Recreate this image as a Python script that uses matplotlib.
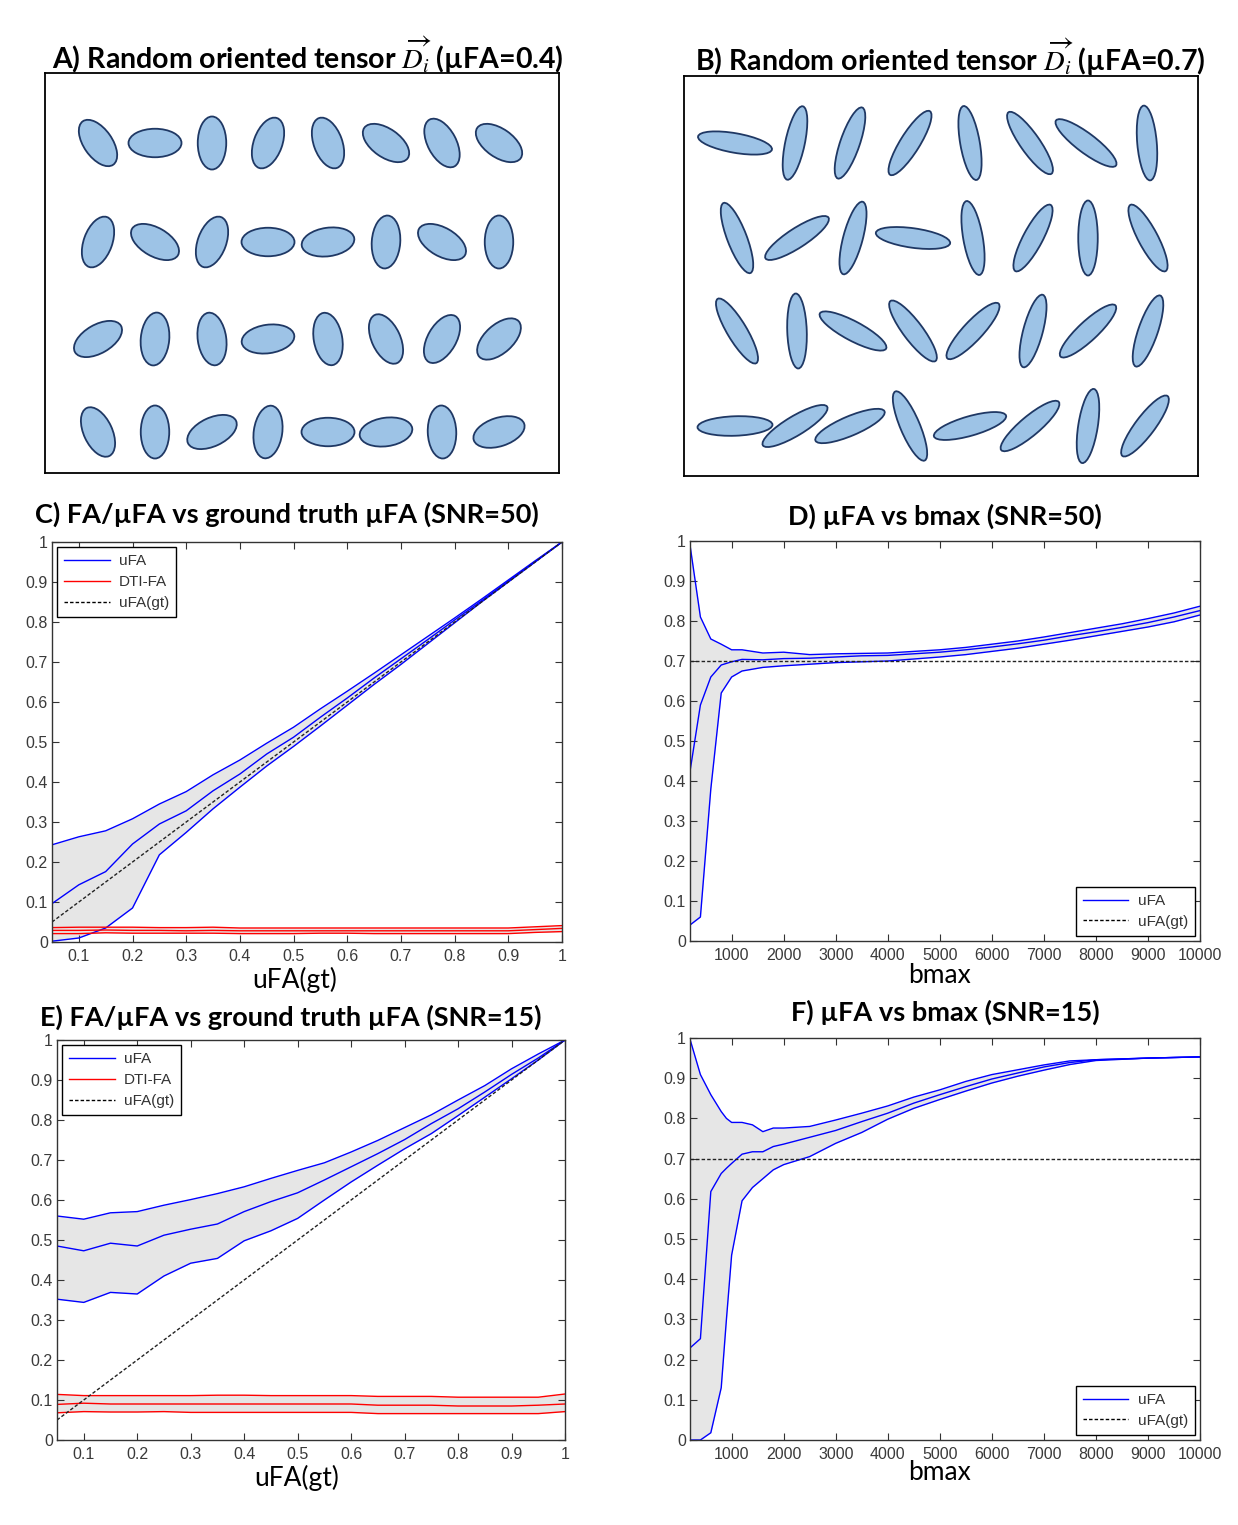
import numpy as np
import matplotlib
matplotlib.use('Agg')
import matplotlib.pyplot as plt
from matplotlib.patches import Ellipse
from matplotlib.lines import Line2D

plt.rcParams['font.family'] = ['Lato', 'DejaVu Sans']
plt.rcParams['mathtext.fontset'] = 'stix'

W, H = 1238, 1525

# ---------------- Data ----------------
# Panel A (uFA=0.4): ellipse grid, box units (514 x 400, y up)
a_rows_y = [330, 231, 134, 41]
a_cols_x = [[53, 110, 167, 223, 283, 341, 397, 454]] * 4
a_angles = [[125, 0, 90, 70, 110, 145, 118, 145],
            [70, 150, 70, 0, 8, 86, 150, 90],
            [30, 85, 98, 8, 100, 115, 60, 42],
            [115, 90, 25, 82, 0, 8, 92, 18]]

# Panel B (uFA=0.7)
b_rows_y = [333, 238, 145, 50]
b_cols_x = [[51, 111, 166, 226, 286, 346, 402, 463],
            [53, 113, 169, 229, 289, 349, 404, 464],
            [53, 113, 169, 229, 289, 349, 404, 464],
            [51, 111, 166, 226, 286, 346, 404, 461]]
b_angles = [[170, 78, 71, 58, 100, 125, 143, 95],
            [111, 33, 75, 172, 100, 62, 90, 118],
            [121, 92, 152, 127, 47, 75, 43, 71],
            [2, 31, 23, 113, 16, 40, 81, 53]]

# Panels C/E: x = ground truth uFA
ufa_gt = [0.05, 0.1, 0.15, 0.2, 0.25, 0.3, 0.35, 0.4, 0.45, 0.5,
          0.55, 0.6, 0.65, 0.7, 0.75, 0.8, 0.85, 0.9, 0.95, 1.0]

c_ufa_hi = [0.243, 0.263, 0.278, 0.308, 0.345, 0.376, 0.418, 0.455, 0.497, 0.537,
            0.583, 0.627, 0.672, 0.718, 0.764, 0.81, 0.857, 0.905, 0.953, 1.0]
c_ufa_mid = [0.096, 0.143, 0.176, 0.245, 0.295, 0.328, 0.378, 0.42, 0.47, 0.512,
             0.562, 0.61, 0.66, 0.708, 0.756, 0.805, 0.853, 0.902, 0.951, 1.0]
c_ufa_lo = [0.002, 0.01, 0.035, 0.085, 0.218, 0.274, 0.333, 0.387, 0.44, 0.489,
            0.54, 0.592, 0.644, 0.694, 0.746, 0.798, 0.85, 0.9, 0.95, 1.0]
c_fa_hi = [0.036, 0.037, 0.037, 0.037, 0.036, 0.036, 0.037, 0.035, 0.035, 0.035,
           0.035, 0.035, 0.035, 0.035, 0.035, 0.035, 0.035, 0.035, 0.038, 0.041]
c_fa_mid = [0.029, 0.029, 0.03, 0.029, 0.029, 0.028, 0.029, 0.028, 0.028, 0.028,
            0.028, 0.028, 0.028, 0.028, 0.028, 0.028, 0.028, 0.028, 0.031, 0.034]
c_fa_lo = [0.021, 0.021, 0.023, 0.022, 0.022, 0.022, 0.022, 0.021, 0.021, 0.021,
           0.022, 0.022, 0.021, 0.021, 0.021, 0.021, 0.021, 0.021, 0.024, 0.026]

e_ufa_hi = [0.56, 0.552, 0.568, 0.571, 0.587, 0.601, 0.616, 0.633, 0.654, 0.674,
            0.693, 0.72, 0.749, 0.781, 0.813, 0.85, 0.886, 0.928, 0.965, 1.0]
e_ufa_mid = [0.485, 0.473, 0.492, 0.485, 0.512, 0.527, 0.54, 0.571, 0.596, 0.618,
             0.65, 0.683, 0.716, 0.751, 0.791, 0.828, 0.87, 0.914, 0.955, 1.0]
e_ufa_lo = [0.352, 0.344, 0.369, 0.365, 0.41, 0.442, 0.454, 0.498, 0.523, 0.554,
            0.6, 0.645, 0.687, 0.728, 0.766, 0.811, 0.857, 0.903, 0.95, 1.0]
e_fa_hi = [0.114, 0.111, 0.111, 0.111, 0.111, 0.111, 0.112, 0.112, 0.111, 0.111,
           0.111, 0.111, 0.109, 0.109, 0.109, 0.107, 0.107, 0.107, 0.107, 0.115]
e_fa_mid = [0.089, 0.092, 0.09, 0.09, 0.09, 0.09, 0.09, 0.09, 0.09, 0.09,
            0.09, 0.09, 0.087, 0.087, 0.087, 0.085, 0.085, 0.085, 0.087, 0.09]
e_fa_lo = [0.068, 0.071, 0.07, 0.07, 0.071, 0.069, 0.069, 0.069, 0.069, 0.069,
           0.069, 0.069, 0.066, 0.066, 0.066, 0.066, 0.066, 0.066, 0.066, 0.071]

# Panel D: uFA vs bmax, SNR=50
d_bmax = [200, 400, 600, 800, 1000, 1200, 1600, 2000, 2500, 3000, 3500, 4000,
          4500, 5000, 5500, 6000, 6500, 7000, 7500, 8000, 8500, 9000, 9500, 10000]
d_hi = [0.99, 0.81, 0.755, 0.742, 0.728, 0.728, 0.72, 0.722, 0.716, 0.718, 0.719, 0.72,
        0.724, 0.728, 0.734, 0.742, 0.75, 0.76, 0.771, 0.782, 0.793, 0.806, 0.82, 0.837]
d_mid = [0.424, 0.59, 0.66, 0.69, 0.698, 0.704, 0.703, 0.706, 0.707, 0.71, 0.713, 0.714,
         0.718, 0.722, 0.728, 0.735, 0.743, 0.752, 0.763, 0.773, 0.784, 0.796, 0.81, 0.826]
d_lo = [0.04, 0.06, 0.38, 0.62, 0.66, 0.675, 0.684, 0.688, 0.692, 0.696, 0.698, 0.7,
        0.705, 0.71, 0.716, 0.724, 0.732, 0.742, 0.752, 0.763, 0.774, 0.785, 0.798, 0.815]

# Panel F: uFA vs bmax, SNR=15
f_bmax = [200, 400, 600, 800, 900, 1000, 1200, 1400, 1600, 1800, 2000, 2500, 3000,
          3500, 4000, 4500, 5000, 5500, 6000, 6500, 7000, 7500, 8000, 9000, 10000]
f_hi = [0.997, 0.909, 0.859, 0.817, 0.8, 0.79, 0.79, 0.784, 0.767, 0.776, 0.776, 0.78, 0.796,
        0.813, 0.831, 0.853, 0.871, 0.892, 0.909, 0.921, 0.933, 0.943, 0.946, 0.95, 0.953]
f_mid = [0.229, 0.252, 0.618, 0.663, 0.676, 0.688, 0.711, 0.717, 0.717, 0.73, 0.736, 0.753, 0.77,
         0.792, 0.813, 0.838, 0.859, 0.879, 0.898, 0.913, 0.928, 0.939, 0.946, 0.95, 0.953]
f_lo = [0.0, 0.0, 0.018, 0.13, 0.3, 0.46, 0.595, 0.628, 0.65, 0.672, 0.685, 0.705, 0.738,
        0.765, 0.798, 0.825, 0.847, 0.868, 0.888, 0.905, 0.92, 0.934, 0.944, 0.95, 0.953]

ufa_true_bmax = 0.7

y_ticks = [0, 0.1, 0.2, 0.3, 0.4, 0.5, 0.6, 0.7, 0.8, 0.9, 1]
gt_ticks = [0.1, 0.2, 0.3, 0.4, 0.5, 0.6, 0.7, 0.8, 0.9, 1]
b_ticks = [1000, 2000, 3000, 4000, 5000, 6000, 7000, 8000, 9000, 10000]

FILL = '#e6e6e6'
BLUE = '#0000ff'
RED = '#ff0000'
DASH = (0, (2.5, 1.5))

fig = plt.figure(figsize=(W / 100, H / 100), dpi=100)


def px_axes(x0, y0, x1, y1):
    # axes from pixel box (top-left origin)
    return fig.add_axes([x0 / W, 1 - y1 / H, (x1 - x0) / W, (y1 - y0) / H])


def title(x, y, s, size=19.5):
    fig.text(x / W, 1 - y / H, s, ha='center', va='center',
             fontsize=size, fontweight='bold')


def label(x, y, s):
    fig.text(x / W, 1 - y / H, s, ha='center', va='center', fontsize=19)


def draw_tensors(ax, xs, ys, angles, w, h):
    for j, y in enumerate(ys):
        for x, ang in zip(xs[j], angles[j]):
            ax.add_patch(Ellipse((x, y), w, h, angle=ang, fc='#9dc3e6',
                                 ec='#1f3864', lw=1.3))
    ax.set_xlim(0, 514)
    ax.set_ylim(0, 400)
    ax.set_xticks([])
    ax.set_yticks([])
    for s in ax.spines.values():
        s.set_linewidth(1.3)
        s.set_color('black')


def matlab_style(ax, xt, xl):
    ax.set_yticks(y_ticks)
    ax.set_yticklabels(['%g' % v for v in y_ticks])
    ax.set_xticks(xt)
    ax.set_xticklabels(xl)
    ax.set_ylim(0, 1)
    ax.tick_params(direction='in', top=True, right=True, length=5, width=0.8,
                   color='#333333', labelcolor='#3a3a3a', labelsize=11.5)
    ax.tick_params(axis='y', pad=3)
    ax.tick_params(axis='x', pad=5)
    for lab in ax.get_xticklabels() + ax.get_yticklabels():
        lab.set_family(['Liberation Sans', 'DejaVu Sans'])
    for s in ax.spines.values():
        s.set_color('#333333')
        s.set_linewidth(1.0)


def band(ax, x, lo, mid, hi, color):
    ax.fill_between(x, lo, hi, color=FILL, lw=0)
    for v in (hi, mid, lo):
        ax.plot(x, v, color=color, lw=1.0)


def legend(ax, with_fa, loc):
    handles = [Line2D([], [], color=BLUE, lw=1, label='uFA')]
    if with_fa:
        handles.append(Line2D([], [], color=RED, lw=1, label='DTI-FA'))
    handles.append(Line2D([], [], color='black', lw=1, ls=DASH, label='uFA(gt)'))
    leg = ax.legend(handles=handles, loc=loc, fancybox=False, framealpha=1,
                    edgecolor='black', handlelength=3.0, borderpad=0.45,
                    labelspacing=0.45, borderaxespad=0.35, handletextpad=0.6,
                    prop={'family': ['Liberation Sans', 'DejaVu Sans'], 'size': 11})
    leg.get_frame().set_linewidth(1.0)
    for t in leg.get_texts():
        t.set_color('#333333')


# ---------------- A / B: tensor sketches ----------------
axA = px_axes(45, 73, 559, 473)
draw_tensors(axA, a_cols_x, a_rows_y, a_angles, 53, 28.5)
title(308, 55, r'A) Random oriented tensor $\overrightarrow{D_i}$ (µFA=0.4)', 20.5)

axB = px_axes(684, 76, 1198, 476)
draw_tensors(axB, b_cols_x, b_rows_y, b_angles, 75, 19.5)
title(950, 57, r'B) Random oriented tensor $\overrightarrow{D_i}$ (µFA=0.7)', 20.5)

# ---------------- C / E: FA vs ground truth ----------------
for box, hi, mid, lo, fhi, fmid, flo, ttl, ty, lx, ly in [
        ((52, 542, 562, 942), c_ufa_hi, c_ufa_mid, c_ufa_lo, c_fa_hi, c_fa_mid, c_fa_lo,
         'C) FA/µFA vs ground truth µFA (SNR=50)', 514, 295, 980),
        ((57, 1040, 565, 1440), e_ufa_hi, e_ufa_mid, e_ufa_lo, e_fa_hi, e_fa_mid, e_fa_lo,
         'E) FA/µFA vs ground truth µFA (SNR=15)', 1017, 297, 1478)]:
    ax = px_axes(*box)
    band(ax, ufa_gt, lo, mid, hi, BLUE)
    band(ax, ufa_gt, flo, fmid, fhi, RED)
    ax.plot(ufa_gt, ufa_gt, color='#222222', lw=1, ls=DASH)
    ax.set_xlim(0.05, 1)
    matlab_style(ax, gt_ticks, ['%g' % v for v in gt_ticks])
    legend(ax, True, 'upper left')
    title((box[0] + box[2]) / 2 - 20, ty, ttl)
    label(lx, ly, 'uFA(gt)')

# ---------------- D / F: uFA vs bmax ----------------
for box, bx, hi, mid, lo, ttl, ty, ly in [
        ((690, 541, 1200, 941), d_bmax, d_hi, d_mid, d_lo,
         'D) µFA vs bmax (SNR=50)', 516, 975),
        ((690, 1038, 1200, 1440), f_bmax, f_hi, f_mid, f_lo,
         'F) µFA vs bmax (SNR=15)', 1012, 1472)]:
    ax = px_axes(*box)
    band(ax, bx, lo, mid, hi, BLUE)
    ax.plot([bx[0], bx[-1]], [ufa_true_bmax] * 2, color='#222222', lw=1, ls=DASH)
    ax.set_xlim(200, 10000)
    matlab_style(ax, b_ticks, [str(v) for v in b_ticks])
    legend(ax, False, 'lower right')
    title(945, ty, ttl)
    label(940, ly, 'bmax')

fig.savefig('out.png', dpi=100, facecolor='white')
